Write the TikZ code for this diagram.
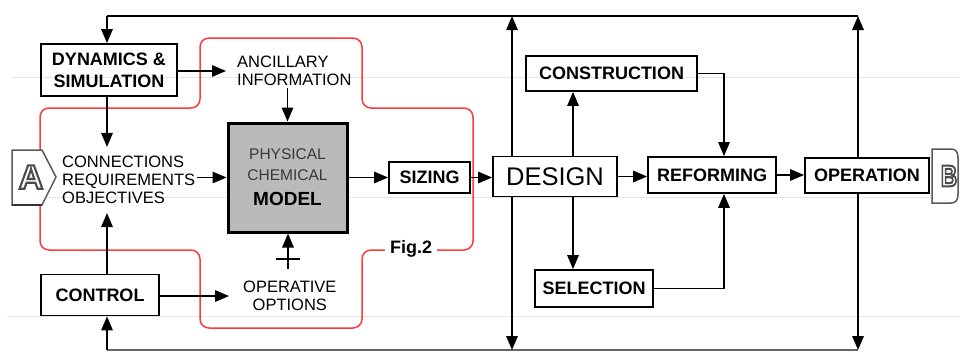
\documentclass[tikz,border=0pt]{standalone}
\usepackage{fontspec}
\setmainfont{Liberation Sans}
\usetikzlibrary{arrows.meta}
\definecolor{figred}{RGB}{250,60,60}
% outline-only glyphs (text render mode 1)
\newcommand{\hollowtext}[1]{\special{pdf:literal direct 1 Tr 2.1 w}#1\special{pdf:literal direct 0 Tr}}
\begin{document}
\begin{tikzpicture}[x=1pt,y=-1pt,
  conn/.style={line width=1.5pt,-{Triangle[length=14pt,width=11.5pt]}},
  plainline/.style={line width=1.5pt},
  box/.style={draw,line width=1.8pt,inner sep=0pt,align=center,
    font=\fontsize{18}{22}\selectfont\bfseries},
  txt/.style={inner ysep=2pt,font=\fontsize{16.5}{18}\selectfont},
  marker/.style={fill=white,draw=black!65,line width=1.5pt},
]
\useasboundingbox (0,0) rectangle (960,351);
\clip (0,0) rectangle (960,351);

% faint ruling
\draw[black!10,line width=1pt] (12,77) -- (960,77) (12,197) -- (960,197) (7,316) -- (960,316);

% Fig.2 boundary
\draw[figred,line width=1.5pt,rounded corners=9pt]
  (280,38) -- (362,38) -- (362,108) -- (473,108) -- (473,250) -- (362,250)
  -- (362,328) -- (200,328) -- (200,250) -- (40,250) -- (40,108) -- (200,108)
  -- (200,38) -- cycle;
\node[fill=white,inner xsep=5pt,inner ysep=1pt,font=\fontsize{18}{20}\selectfont\bfseries] (fig) at (411,249) {Fig.2};

% boxes
\node[box,minimum width=136pt,minimum height=52pt] (dyn) at (109,70) {DYNAMICS \&\\SIMULATION};
\node[box,minimum width=118pt,minimum height=41pt] (ctrl) at (100,295) {CONTROL};
\node[box,line width=3pt,fill=black!27,minimum width=119pt,minimum height=109pt,
  text=black!78,font=\fontsize{15.5}{21}\selectfont] (model) at (287.5,177.5)
  {PHYSICAL\\CHEMICAL\\[4pt]{\color{black}\fontsize{19}{21}\selectfont\bfseries MODEL}};
\node[box,minimum width=81pt,minimum height=31pt] (sizing) at (429.5,177.5) {SIZING};
\node[box,minimum width=124pt,minimum height=40pt,font=\fontsize{25.5}{28}\selectfont] (design) at (555,176.5) {DESIGN};
\node[box,minimum width=171pt,minimum height=35pt] (constr) at (611.5,73.5) {CONSTRUCTION};
\node[box,minimum width=118pt,minimum height=37pt] (select) at (594,288.5) {SELECTION};
\node[box,minimum width=128pt,minimum height=36pt] (reform) at (712,175) {REFORMING};
\node[box,minimum width=124pt,minimum height=35pt] (oper) at (867,175.5) {OPERATION};

% free text
\node[txt,anchor=west,inner xsep=11pt,align=left,font=\fontsize{16.5}{17.5}\selectfont] (anc) at (226,71) {ANCILLARY\\INFORMATION};
\node[txt,anchor=west,inner xsep=2pt,inner ysep=9pt,align=left] (req) at (60,180) {CONNECTIONS\\REQUIREMENTS\\OBJECTIVES};
\node[txt,anchor=west,inner xsep=14pt,align=center] (opt) at (229,296) {OPERATIVE\\OPTIONS};

% end markers
\draw[marker] (12,150) -- (42,150) -- (56,177) -- (42,205) -- (12,205) -- cycle;
\draw[black!80,line width=2pt] (12,205) -- (42,205);
\node[text=black!70,inner sep=0pt,font=\fontsize{34}{34}\selectfont\bfseries] (mA) at (31,177) {\hollowtext{A}};
\draw[marker] (932,149) -- (951,149) .. controls (956,149) and (958,152) .. (958,158)
  -- (958,194) .. controls (958,200) and (956,203) .. (951,203) -- (932,203) -- cycle;
\node[text=black!70,inner sep=0pt,font=\fontsize{30}{30}\selectfont\bfseries] (mB) at (949,176) {\hollowtext{\scalebox{0.75}[1]{B}}};

% reference points of the feedback lines
\coordinate (t1) at (107,16);
\coordinate (t2) at (512,16);
\coordinate (t3) at (858,16);
\coordinate (b1) at (107,350);
\coordinate (b2) at (512,350);
\coordinate (b3) at (858,350);
\coordinate (dc) at (573,176);
\coordinate (rc) at (724,175);
\coordinate (pb) at (288,269);
\coordinate (pl) at (288,259);

% feedback loops
\draw[plainline] (t1) -- (t3);
\draw[conn] (t1) -- (t1 |- dyn.north);
\draw[conn] (t2 |- design.north) -- (t2);
\draw[conn] (t3 |- oper.north) -- (t3);
\draw[plainline,black!60] (b1) -- (b3);
\draw[conn] (b1) -- (b1 |- ctrl.south);
\draw[conn] (b2 |- design.south) -- (b2);
\draw[conn] (b3 |- oper.south) -- (b3);

% model inputs
\draw[conn] (dyn.east |- anc.west) -- (anc.west);
\draw[conn] (model.north |- anc.south) -- (model.north);
\draw[conn] (t1 |- dyn.south) -- (t1 |- req.north);
\draw[conn] (t1 |- ctrl.north) -- (t1 |- req.south);
\draw[conn] (req.east |- model.west) -- (model.west);
\draw[conn] (ctrl.east |- opt.west) -- (opt.west);
\draw[conn] (pb) -- (pb |- model.south);
\draw[plainline] ([xshift=-12pt]pl) -- ([xshift=12pt]pl);

% main chain
\draw[conn] (model.east) -- (sizing.west);
\draw[conn] (sizing.east) -- (sizing.east -| design.west);
\draw[conn] (design.east) -- (design.east -| reform.west);
\draw[conn] (reform.east) -- (reform.east -| oper.west);
\draw[conn] (dc |- design.north) -- (dc |- constr.south);
\draw[conn] (dc |- design.south) -- (dc |- select.north);
\draw[conn] (constr.east) -| (rc |- reform.north);
\draw[conn] (select.east) -| (rc |- reform.south);
\end{tikzpicture}
\end{document}
